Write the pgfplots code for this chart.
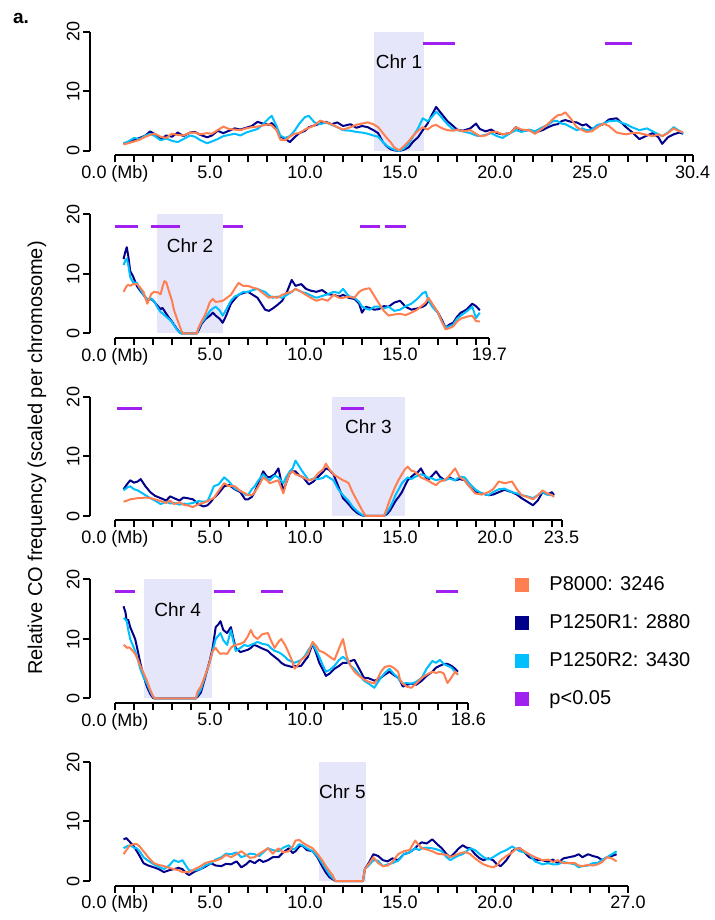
\documentclass[border=0pt]{standalone}
\usepackage{pgfplots}
\usepackage{pgfplotstable}
\pgfplotsset{compat=1.18}
\usepackage{fontspec}
\setmainfont{Liberation Sans}

\definecolor{coCoral}{RGB}{255,127,80}
\definecolor{coNavy}{RGB}{0,0,139}
\definecolor{coSky}{RGB}{0,191,255}
\definecolor{coPurple}{RGB}{160,32,240}
\definecolor{coLav}{RGB}{230,230,250}

%% columns: position (Mb), P1250R1 (n), P1250R2 (c), P8000 (o)
\pgfplotstableread{
x n c o
0.45 1.2 1.3 1.1
0.7 1.5 1.6 1.3
1.0 1.8 2.2 1.6
1.3 2.2 2.0 1.9
1.6 2.6 2.6 2.4
1.85 3.3 2.9 2.7
2.1 2.8 2.5 2.9
2.4 2.0 1.8 2.4
2.7 2.6 2.1 2.2
3.0 2.4 1.7 2.9
3.3 3.1 1.5 2.7
3.6 2.5 2.0 2.6
3.95 3.1 2.6 3.1
4.2 3.2 2.4 3.1
4.5 2.7 1.8 2.8
4.85 2.3 1.3 3.0
5.1 2.6 1.6 2.9
5.4 3.4 2.0 3.5
5.7 3.0 2.5 4.1
6.0 3.4 2.7 3.7
6.3 3.8 2.9 3.6
6.6 3.6 2.6 3.5
6.9 3.9 3.1 3.8
7.2 4.2 3.4 4.0
7.5 4.9 3.7 4.1
7.8 4.6 4.5 4.3
8.1 4.4 5.5 4.5
8.25 4.7 5.9 4.3
8.5 3.8 4.2 3.5
8.7 2.4 2.6 1.9
8.95 2.1 2.2 1.8
9.2 1.5 2.5 2.4
9.45 2.3 3.4 2.9
9.7 3.0 4.6 3.0
10.0 3.4 5.7 3.6
10.2 4.0 5.9 3.9
10.5 4.3 4.8 4.3
10.8 4.6 4.5 5.1
11.1 4.9 4.8 4.8
11.4 4.5 4.4 4.5
11.7 4.8 4.0 4.0
12.0 4.2 3.5 3.6
12.4 4.5 3.4 4.0
12.7 3.9 3.2 4.4
13.0 4.2 3.1 4.6
13.3 4.0 2.9 4.8
13.6 3.5 2.6 4.5
13.85 3.0 2.4 4.0
14.1 1.5 1.5 3.0
14.3 0.8 0.9 2.2
14.5 0.3 0.5 1.5
14.7 0.1 0.2 0.6
14.95 0.0 0.0 0.1
15.2 0.2 0.4 0.8
15.45 0.6 1.2 1.6
15.7 1.6 2.5 2.6
15.95 2.3 3.8 3.4
16.2 3.5 5.5 4.0
16.45 4.6 5.0 3.6
16.7 6.2 5.8 4.2
16.9 7.4 6.6 4.4
17.1 6.6 6.0 4.0
17.3 5.8 5.2 3.7
17.5 5.0 4.5 3.5
17.8 4.2 3.6 3.4
18.0 3.6 3.5 3.6
18.3 3.4 3.3 3.3
18.7 3.8 3.0 3.5
19.0 4.6 2.6 2.9
19.2 3.7 2.5 2.5
19.5 3.3 2.7 2.6
19.8 3.6 3.0 3.2
20.1 3.0 2.5 3.2
20.4 2.8 2.2 2.8
20.8 3.0 3.0 3.0
21.1 4.0 3.5 4.0
21.4 3.4 3.2 3.6
21.8 3.5 3.6 3.5
22.1 3.1 3.3 2.9
22.5 3.5 4.0 3.8
22.8 4.0 4.4 4.6
23.1 4.4 5.1 5.5
23.3 4.5 5.0 6.0
23.5 5.0 4.6 6.1
23.7 5.2 4.5 6.5
24.0 4.9 4.0 5.4
24.3 4.8 3.5 4.0
24.6 4.3 3.8 3.5
24.8 4.5 3.5 3.2
25.1 3.7 3.6 3.3
25.4 4.2 4.4 4.0
25.7 4.5 4.6 4.6
26.0 5.3 5.0 4.2
26.4 5.5 5.1 3.1
26.7 4.6 4.7 2.9
26.9 4.0 4.5 2.8
27.2 3.2 4.0 3.0
27.6 2.0 3.5 3.0
28.0 2.6 3.8 2.7
28.3 3.0 3.3 2.5
28.6 2.3 2.8 2.8
28.8 1.2 2.5 2.5
29.1 2.3 3.1 3.0
29.4 2.8 4.0 3.8
29.7 3.1 3.4 3.3
29.9 2.9 3.0 3.2
}\chrone

\pgfplotstableread{
x n c o
0.45 12.5 11.5 7.0
0.55 13.8 12.3 7.6
0.62 14.5 12.6 8.0
0.7 13.0 11.5 8.2
0.8 10.5 9.5 8.0
0.95 9.6 8.6 8.3
1.15 8.0 8.5 8.3
1.3 7.3 7.6 7.8
1.5 6.5 6.5 7.0
1.7 5.6 5.8 5.0
1.9 5.8 5.9 6.6
2.05 5.4 5.5 7.0
2.25 4.6 4.3 6.9
2.4 4.1 3.6 6.6
2.5 4.3 3.4 7.8
2.6 3.8 3.1 8.8
2.7 3.3 2.8 8.6
2.85 2.6 2.4 7.0
3.0 2.0 1.9 5.5
3.1 1.5 1.4 4.0
3.25 0.8 0.7 2.6
3.4 0.2 0.2 1.3
3.5 0.0 0.0 0.4
3.6 0.0 0.0 0.0
4.3 0.0 0.0 0.0
4.4 0.5 0.8 1.0
4.55 1.6 1.8 2.0
4.75 2.4 2.6 3.2
5.0 3.0 3.8 5.3
5.15 3.5 4.2 5.8
5.3 3.0 4.5 5.3
5.5 2.5 3.9 5.4
5.67 1.8 3.0 5.5
5.85 3.0 4.0 5.9
6.1 5.0 5.5 6.5
6.3 5.8 6.2 7.5
6.5 6.5 6.5 8.5
6.75 6.8 7.0 8.0
7.0 7.0 7.0 8.0
7.25 6.5 7.3 7.7
7.5 6.0 7.5 7.5
7.7 5.0 7.2 7.0
7.9 4.0 7.0 6.5
8.1 3.8 6.4 6.0
8.3 4.2 6.0 6.2
8.55 4.8 6.2 6.0
8.8 5.5 6.0 6.5
9.05 7.0 6.5 6.8
9.3 9.0 7.0 7.0
9.5 8.0 7.5 7.5
9.8 8.3 7.0 7.0
10.05 7.5 6.8 6.5
10.3 7.2 6.4 6.0
10.6 7.0 6.0 5.5
10.9 7.3 6.3 5.8
11.2 6.6 6.6 5.5
11.5 6.5 7.0 6.5
11.8 6.2 6.8 6.0
12.0 6.5 7.5 6.0
12.3 6.0 6.3 6.2
12.6 5.8 6.0 6.0
12.85 5.0 5.3 7.0
13.0 3.5 4.5 7.3
13.2 4.5 4.2 7.5
13.4 4.3 4.0 7.6
13.65 4.0 4.5 6.3
13.9 4.1 4.5 5.0
14.15 4.6 4.2 3.8
14.4 4.5 4.5 3.0
14.7 5.2 3.8 3.2
15.0 5.5 4.0 3.3
15.3 4.5 4.6 3.1
15.6 4.0 5.0 3.5
15.9 4.2 5.8 4.0
16.2 4.5 6.8 4.8
16.35 4.8 7.0 5.2
16.5 5.5 5.5 6.0
16.7 4.8 4.5 5.0
17.0 3.5 3.4 3.5
17.2 2.3 2.0 2.0
17.4 1.0 1.0 0.7
17.6 1.5 1.2 0.9
17.8 1.8 1.5 1.2
18.0 2.8 2.5 2.0
18.2 3.5 3.0 2.5
18.5 4.0 3.7 2.8
18.8 5.0 4.5 3.0
19.0 4.6 2.6 2.1
19.2 3.9 3.5 2.0
}\chrtwo

\pgfplotstableread{
x n c o
0.45 4.5 4.3 2.4
0.65 5.4 4.8 2.6
0.8 6.0 5.0 2.8
1.0 5.6 4.5 2.9
1.2 5.8 4.3 3.0
1.35 6.2 4.0 3.0
1.6 5.0 3.5 3.1
1.86 4.0 3.0 3.0
2.1 3.4 2.6 2.8
2.4 3.0 2.0 2.5
2.7 2.6 2.4 2.2
2.9 3.3 2.1 2.6
3.1 3.0 2.2 2.0
3.4 2.6 1.9 2.3
3.6 3.1 2.1 1.9
3.8 3.0 2.0 1.8
4.1 2.8 2.2 1.5
4.4 2.0 2.5 2.0
4.65 1.6 2.4 2.2
4.87 1.8 2.5 2.5
5.05 2.4 3.8 2.8
5.2 3.0 5.0 3.0
5.45 3.8 5.3 4.2
5.75 5.0 6.5 5.5
6.0 5.2 5.8 5.0
6.3 4.5 4.6 5.0
6.6 4.0 4.2 4.2
6.85 2.8 3.6 3.8
7.0 2.8 3.5 3.5
7.2 3.2 4.5 3.5
7.35 4.0 5.0 4.0
7.55 5.5 6.0 5.0
7.8 7.5 7.0 6.5
8.0 6.6 6.3 6.0
8.15 6.5 6.0 5.5
8.4 7.0 6.8 5.8
8.6 8.0 6.5 6.0
8.75 5.8 5.9 4.7
8.86 4.2 5.5 3.8
9.0 5.5 6.5 5.5
9.2 7.2 7.5 7.2
9.35 7.5 8.0 7.5
9.5 7.5 9.3 7.0
9.7 6.8 8.3 6.8
9.9 6.5 7.3 6.5
10.2 5.3 6.0 6.0
10.45 5.8 6.3 6.2
10.7 6.6 6.2 7.2
10.95 7.4 6.4 7.8
11.1 8.0 6.8 8.8
11.25 7.8 6.5 8.0
11.5 7.0 6.0 7.0
11.75 5.0 4.5 6.5
12.0 3.0 3.5 6.0
12.15 2.5 3.0 5.8
12.3 2.0 2.5 5.5
12.5 1.2 1.6 4.0
12.75 0.5 0.8 2.5
13.0 0.1 0.2 1.0
13.2 0.0 0.0 0.0
14.15 0.0 0.0 0.0
14.3 0.3 0.6 1.2
14.45 0.8 1.3 2.6
14.6 1.6 2.3 3.8
14.76 2.5 3.5 5.0
14.95 3.3 4.6 6.2
15.1 4.0 5.5 7.0
15.25 5.0 6.0 7.8
15.4 6.0 6.5 8.3
15.6 6.6 6.2 7.6
15.75 7.0 6.5 7.5
15.95 7.4 6.8 7.0
16.1 8.0 7.0 6.5
16.3 6.8 6.8 6.2
16.45 6.0 6.5 6.0
16.7 6.8 6.3 5.5
16.9 7.5 6.0 5.2
17.1 6.6 6.2 5.8
17.35 6.0 6.0 6.0
17.6 6.5 6.3 6.8
17.9 6.0 6.0 8.0
18.15 6.2 6.6 6.5
18.4 6.0 6.5 6.0
18.65 5.0 5.5 5.0
18.95 4.0 4.5 3.8
19.3 3.8 3.8 3.6
19.65 3.5 3.5 4.0
19.9 3.6 4.0 4.5
20.2 4.0 4.5 5.8
20.5 4.4 4.6 5.5
20.9 4.0 4.0 5.8
21.15 3.6 3.8 4.5
21.4 3.0 3.5 3.5
21.7 2.4 3.3 3.2
22.0 1.8 3.0 2.8
22.25 2.6 3.5 3.5
22.5 4.0 4.0 4.3
22.75 3.6 3.6 3.8
23.0 4.0 3.5 3.5
23.1 3.5 3.3 3.2
}\chrthree

\pgfplotstableread{
x n c o
0.45 15.5 13.5 9.0
0.55 14.5 13.3 8.8
0.62 13.0 13.0 8.5
0.7 13.2 11.5 8.6
0.8 12.0 10.0 8.5
0.93 11.0 9.0 8.0
1.06 10.0 8.0 7.5
1.2 8.0 6.5 6.6
1.33 6.0 5.0 5.5
1.5 3.8 3.6 4.3
1.68 2.0 2.5 3.0
1.85 0.8 1.2 1.5
2.0 0.1 0.3 0.4
2.1 0.0 0.0 0.0
4.25 0.0 0.0 0.0
4.35 0.3 0.6 1.2
4.52 1.0 1.5 2.0
4.7 3.0 3.3 3.5
4.87 5.0 5.0 5.0
5.0 6.5 6.2 6.3
5.14 8.5 8.0 8.0
5.3 12.0 10.0 8.5
5.45 12.5 10.6 7.8
5.55 13.0 11.0 7.5
5.7 11.5 9.8 7.6
5.9 11.0 9.0 7.5
6.1 12.0 11.5 8.5
6.2 10.5 10.0 8.8
6.35 8.5 8.0 9.0
6.6 7.8 8.5 9.2
6.8 8.0 9.0 9.5
7.0 8.2 8.8 10.5
7.15 8.5 9.0 11.5
7.3 9.0 9.2 10.5
7.5 8.8 9.5 10.0
7.75 8.4 9.2 10.8
8.05 8.0 9.0 11.0
8.2 7.5 8.5 9.8
8.4 7.0 8.0 8.5
8.6 6.5 7.8 9.5
8.75 6.0 7.5 10.0
8.95 5.6 7.0 9.0
9.1 5.5 6.5 8.0
9.3 5.3 6.2 6.5
9.45 5.5 6.0 5.0
9.6 5.4 6.2 5.5
9.8 5.5 6.5 6.5
10.0 6.4 7.2 7.0
10.15 7.0 8.0 7.5
10.4 9.2 9.2 9.5
10.6 7.5 8.0 8.8
10.75 6.0 7.0 8.0
10.95 4.8 5.5 7.8
11.1 3.8 4.5 7.5
11.3 4.2 4.8 7.0
11.55 5.0 5.5 6.5
11.8 5.5 6.5 8.5
12.0 6.0 7.0 10.0
12.2 6.0 6.5 7.0
12.4 6.3 5.5 5.5
12.6 6.5 5.0 4.5
12.85 5.0 4.0 3.8
13.1 3.5 3.0 3.2
13.35 3.4 2.5 2.8
13.65 3.0 1.8 2.5
13.85 3.2 2.8 3.5
14.0 3.5 3.5 4.5
14.2 4.0 4.3 5.3
14.45 4.5 5.0 5.5
14.65 4.0 4.2 5.2
14.9 3.5 3.5 4.5
15.0 3.0 3.0 3.2
15.15 2.0 2.5 2.5
15.35 2.3 2.6 2.0
15.6 2.5 2.5 1.8
15.85 2.3 2.8 2.5
16.15 3.0 3.5 3.5
16.4 3.8 5.0 4.0
16.7 4.5 6.3 4.5
16.9 5.2 6.0 4.3
17.1 5.5 6.5 4.5
17.3 5.8 5.8 4.2
17.5 5.8 5.5 2.6
17.7 5.5 5.2 3.5
17.9 5.0 4.5 4.5
18.05 4.5 4.0 4.0
}\chrfour

\pgfplotstableread{
x n c o
0.45 7.0 5.5 4.5
0.6 7.2 5.8 5.2
0.8 6.5 6.0 6.0
1.0 5.8 5.6 6.2
1.15 5.0 5.5 6.2
1.3 4.2 5.0 5.8
1.5 3.0 4.0 5.0
1.75 2.6 3.4 4.0
2.04 2.3 2.8 3.0
2.3 2.0 2.4 2.7
2.57 1.5 2.0 2.5
2.85 1.8 2.6 2.2
3.1 2.0 3.5 2.0
3.35 2.2 3.2 1.8
3.55 2.0 3.5 1.5
3.75 1.3 2.5 1.5
3.9 1.0 1.8 1.5
4.2 1.6 1.8 2.0
4.5 2.0 2.0 2.5
4.75 2.4 2.6 3.0
5.05 3.0 3.0 3.3
5.3 2.6 3.6 3.4
5.6 2.5 4.0 3.8
5.85 2.9 4.6 4.4
6.1 2.8 4.5 4.0
6.4 3.3 4.8 4.5
6.65 2.3 4.0 5.0
6.9 2.8 4.3 4.4
7.1 3.4 4.6 3.9
7.35 3.0 4.5 4.0
7.6 3.6 4.2 4.6
7.8 3.2 4.8 5.0
8.05 3.5 5.5 5.5
8.3 4.0 5.2 4.6
8.6 4.0 5.0 5.5
8.85 4.8 5.6 4.8
9.15 5.5 6.0 5.0
9.35 4.7 5.3 5.8
9.5 5.0 5.5 6.8
9.7 5.8 6.2 6.9
9.85 6.0 6.0 6.5
10.1 5.2 5.5 6.0
10.4 5.0 5.0 5.5
10.65 4.0 4.2 4.6
10.9 2.5 3.0 3.5
11.1 1.4 2.0 2.5
11.3 0.6 1.0 1.6
11.45 0.3 0.5 1.0
11.6 0.0 0.0 0.0
13.05 0.0 0.0 0.0
13.15 2.0 2.0 2.0
13.35 3.0 2.6 2.8
13.6 4.5 3.5 4.0
13.85 4.2 3.4 3.0
14.1 3.5 2.5 2.5
14.35 3.3 2.8 2.6
14.6 3.8 3.0 3.2
14.9 3.5 3.4 4.5
15.2 4.5 4.5 5.0
15.5 4.8 4.8 5.2
15.8 5.5 5.5 6.8
16.0 6.2 5.2 6.0
16.15 6.5 5.5 5.5
16.4 6.3 5.6 5.3
16.7 7.0 5.5 5.0
16.95 6.2 5.3 4.6
17.2 5.5 5.0 4.5
17.45 4.5 4.0 4.4
17.65 4.0 3.5 4.0
17.9 4.8 4.0 4.3
18.1 5.5 4.3 4.6
18.3 6.0 4.5 4.8
18.5 5.6 5.0 4.8
18.7 5.5 5.5 4.5
18.95 4.5 5.2 3.8
19.2 3.8 4.5 3.2
19.4 3.5 4.0 2.8
19.65 3.8 3.6 2.5
19.9 3.5 4.0 2.3
20.1 2.8 4.4 2.6
20.3 2.5 4.8 3.5
20.6 3.5 5.2 4.2
20.9 5.0 5.8 4.8
21.1 5.4 5.4 5.4
21.3 5.5 5.0 5.5
21.55 4.8 4.8 5.0
21.8 4.0 4.5 4.5
22.1 3.6 3.3 4.0
22.5 3.5 2.8 3.5
22.8 3.2 3.0 3.6
23.05 3.6 2.8 3.2
23.3 3.0 2.8 3.5
23.6 3.8 3.2 3.0
23.9 4.0 3.0 3.0
24.2 4.2 2.8 3.0
24.4 4.5 2.3 2.6
24.6 4.0 2.5 2.5
24.9 4.5 2.6 2.7
25.15 4.2 3.0 2.6
25.4 4.0 3.0 2.8
25.65 3.5 3.6 3.2
25.9 4.0 4.0 4.0
26.15 4.2 4.5 3.8
26.4 4.5 5.0 3.3
}\chrfive

\pgfplotsset{
  chrax/.style={
    x=9.5pt, y=2.975pt,
    xmin=0, ymin=0, ymax=20,
    enlargelimits=false,
    anchor=south west, clip=false,
    axis x line*=bottom, axis y line*=left,
    axis x line shift=2.25pt, axis y line shift=12.5pt,
    axis line style={-, line width=1pt, black},
    tick align=outside,
    major tick length=3.5pt, minor tick length=3.5pt,
    tick style={black, line width=1pt},
    ytick={0,10,20}, yticklabels={0,10,20},
    yticklabel style={rotate=90, anchor=south, inner sep=1.5pt,
                      font=\fontsize{9}{10}\selectfont},
    xticklabel style={anchor=north, inner sep=1.5pt,
                      font=\fontsize{9}{10}\selectfont},
  },
  cen/.style={fill=coLav, draw=none, forget plot},
  sig/.style={coPurple, line width=1.5pt, unbounded coords=jump, forget plot},
  sN/.style={coNavy, line width=1pt, line join=round, forget plot},
  sC/.style={coSky, line width=1pt, line join=round, forget plot},
  sO/.style={coCoral, line width=1pt, line join=round, forget plot},
}

\begin{document}
\begin{tikzpicture}
\useasboundingbox (0,0) rectangle (357pt,460pt);

\node[font=\bfseries\fontsize{9.5}{11}\selectfont] at (10.5pt,451pt) {a.};
\node[rotate=90, font=\fontsize{10}{12}\selectfont] at (18.5pt,231pt)
  {Relative CO frequency (scaled per chromosome)};

%% Chr 1
\begin{axis}[chrax, at={(57.5pt,384.5pt)}, xmax=30.4,
  xtick={0,5,10,15,20,25,30.4},
  xticklabels={{0.0 (Mb)},5.0,10.0,15.0,20.0,25.0,30.4},
  minor xtick={0,1,...,30}]
\addplot[cen] coordinates {(13.63,0) (16.26,0) (16.26,20) (13.63,20)} -- cycle;
\addplot[sig] coordinates {(16.2,18) (17.9,18) (nan,nan) (25.8,18) (27.2,18)};
\addplot[sN] table[x=x, y=n] {\chrone};
\addplot[sC] table[x=x, y=c] {\chrone};
\addplot[sO] table[x=x, y=o] {\chrone};
\node[font=\fontsize{9.5}{11}\selectfont] at (axis cs:14.95,15) {Chr 1};
\end{axis}

%% Chr 2
\begin{axis}[chrax, at={(57.5pt,293.25pt)}, xmax=19.7,
  xtick={0,5,10,15,19.7},
  xticklabels={{0.0 (Mb)},5.0,10.0,15.0,19.7},
  minor xtick={0,1,...,19}]
\addplot[cen] coordinates {(2.21,0) (5.68,0) (5.68,20) (2.21,20)} -- cycle;
\addplot[sig] coordinates {(0,18) (1.2,18) (nan,nan) (1.9,18) (3.4,18) (nan,nan)
  (5.7,18) (6.75,18) (nan,nan) (12.9,18) (13.95,18) (nan,nan) (14.2,18) (15.3,18)};
\addplot[sN] table[x=x, y=n] {\chrtwo};
\addplot[sC] table[x=x, y=c] {\chrtwo};
\addplot[sO] table[x=x, y=o] {\chrtwo};
\node[font=\fontsize{9.5}{11}\selectfont] at (axis cs:3.95,14.8) {Chr 2};
\end{axis}

%% Chr 3
\begin{axis}[chrax, at={(57.5pt,202pt)}, xmax=23.5,
  xtick={0,5,10,15,20,23.5},
  xticklabels={{0.0 (Mb)},5.0,10.0,15.0,20.0,23.5},
  minor xtick={0,1,...,23}]
\addplot[cen] coordinates {(11.42,0) (15.26,0) (15.26,20) (11.42,20)} -- cycle;
\addplot[sig] coordinates {(0.1,18) (1.4,18) (nan,nan) (11.9,18) (13.1,18)};
\addplot[sN] table[x=x, y=n] {\chrthree};
\addplot[sC] table[x=x, y=c] {\chrthree};
\addplot[sO] table[x=x, y=o] {\chrthree};
\node[font=\fontsize{9.5}{11}\selectfont] at (axis cs:13.34,15) {Chr 3};
\end{axis}

%% Chr 4 (carries the legend)
\begin{axis}[chrax, at={(57.5pt,110.75pt)}, xmax=18.6,
  xtick={0,5,10,15,18.6},
  xticklabels={{0.0 (Mb)},5.0,10.0,15.0,18.6},
  minor xtick={0,1,...,18},
  legend image code/.code={\fill[#1] (0pt,-3.5pt) rectangle (7pt,3.5pt);},
  legend cell align=left,
  legend style={at={(1.132,1.03)}, anchor=north west, draw=none, fill=none,
    inner sep=0pt, row sep=10pt,
    font=\fontsize{10}{12}\selectfont,
    nodes={inner sep=0pt, text height=7.2pt, text depth=1.8pt},
    /tikz/every odd column/.append style={column sep=10pt}}]
\addlegendimage{fill=coCoral, draw=none}
\addlegendentry{P8000: 3246}
\addlegendimage{fill=coNavy, draw=none}
\addlegendentry{P1250R1: 2880}
\addlegendimage{fill=coSky, draw=none}
\addlegendentry{P1250R2: 3430}
\addlegendimage{fill=coPurple, draw=none}
\addlegendentry{p<0.05}
\addplot[cen] coordinates {(1.53,0) (5.1,0) (5.1,20) (1.53,20)} -- cycle;
\addplot[sig] coordinates {(0,18) (1.05,18) (nan,nan) (5.2,18) (6.3,18) (nan,nan)
  (7.7,18) (8.85,18) (nan,nan) (16.9,18) (18.05,18)};
\addplot[sN] table[x=x, y=n] {\chrfour};
\addplot[sC] table[x=x, y=c] {\chrfour};
\addplot[sO] table[x=x, y=o] {\chrfour};
\node[font=\fontsize{9.5}{11}\selectfont] at (axis cs:3.3,14.9) {Chr 4};
\end{axis}

%% Chr 5
\begin{axis}[chrax, at={(57.5pt,19.5pt)}, xmax=27.0,
  xtick={0,5,10,15,20,27},
  xticklabels={{0.0 (Mb)},5.0,10.0,15.0,20.0,27.0},
  minor xtick={0,1,...,27}]
\addplot[cen] coordinates {(10.74,0) (13.2,0) (13.2,20) (10.74,20)} -- cycle;
\addplot[sN] table[x=x, y=n] {\chrfive};
\addplot[sC] table[x=x, y=c] {\chrfive};
\addplot[sO] table[x=x, y=o] {\chrfive};
\node[font=\fontsize{9.5}{11}\selectfont] at (axis cs:11.97,15) {Chr 5};
\end{axis}
\end{tikzpicture}
\end{document}
